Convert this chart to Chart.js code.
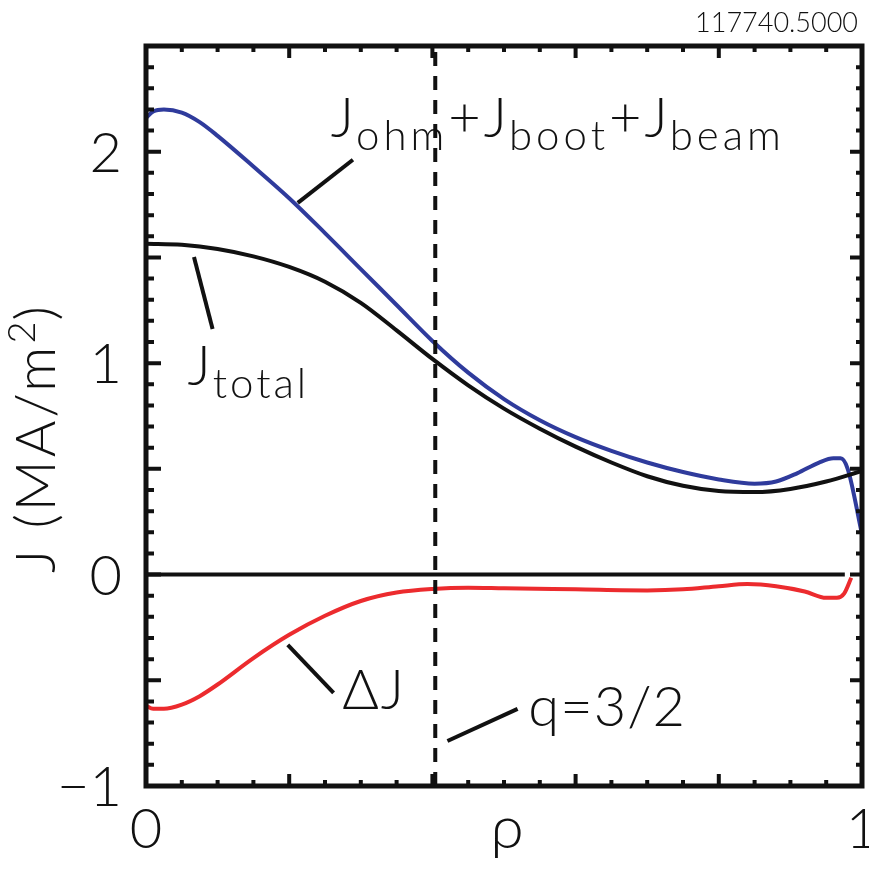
<!DOCTYPE html>
<html>
<head>
<meta charset="utf-8">
<script src="https://cdn.jsdelivr.net/npm/chart.js@4"></script>
<style>
  html, body { margin: 0; padding: 0; background: #fff; }
  #wrap { width: 869px; height: 872px; }
</style>
</head>
<body>
<div id="wrap"><canvas id="chart" width="869" height="872"></canvas></div>
<script>
// J_ohm + J_boot + J_beam
const sumRho = [0, 0.01, 0.025, 0.05, 0.075, 0.1, 0.15, 0.2, 0.25, 0.3, 0.35, 0.4, 0.45, 0.5, 0.55, 0.6, 0.65, 0.7, 0.75, 0.8, 0.85, 0.88, 0.91, 0.94, 0.96, 0.97, 0.98, 1.0];
const sumJ = [2.16, 2.19, 2.20, 2.185, 2.14, 2.075, 1.93, 1.78, 1.615, 1.445, 1.275, 1.105, 0.955, 0.83, 0.73, 0.65, 0.585, 0.53, 0.485, 0.45, 0.43, 0.44, 0.48, 0.53, 0.55, 0.55, 0.50, 0.19];

// J_total
const totalRho = [0, 0.05, 0.1, 0.15, 0.2, 0.25, 0.3, 0.35, 0.4, 0.45, 0.5, 0.55, 0.6, 0.65, 0.7, 0.75, 0.8, 0.85, 0.9, 0.95, 1.0];
const totalJ = [1.565, 1.56, 1.54, 1.505, 1.455, 1.385, 1.285, 1.155, 1.02, 0.895, 0.785, 0.69, 0.605, 0.53, 0.465, 0.42, 0.395, 0.39, 0.405, 0.44, 0.49];

// delta J
const deltaRho = [0, 0.01, 0.025, 0.05, 0.075, 0.1, 0.15, 0.2, 0.25, 0.3, 0.35, 0.4, 0.45, 0.5, 0.6, 0.7, 0.75, 0.8, 0.84, 0.88, 0.92, 0.95, 0.965, 0.975, 0.985];
const deltaJ = [-0.62, -0.635, -0.635, -0.615, -0.575, -0.52, -0.395, -0.285, -0.195, -0.125, -0.085, -0.068, -0.062, -0.065, -0.07, -0.075, -0.07, -0.055, -0.045, -0.055, -0.08, -0.11, -0.11, -0.09, -0.015];

const zeroRho = [0, 0.976];
const zeroJ = [0, 0];

const qRho = 0.404; // q=3/2 surface

const xTickValues = [0, 1];
const xTickLabels = ['0', '1'];
const yTickValues = [-1, 0, 1, 2];
const yTickLabels = ['\u22121', '0', '1', '2'];

// pointer lines for the labels [rho0, J0, rho1, J1]
const pointerSum = [0.212, 1.758, 0.289, 1.962];
const pointerTotal = [0.067, 1.502, 0.093, 1.161];
const pointerDelta = [0.198, -0.332, 0.262, -0.559];
const pointerQ = [0.421, -0.787, 0.519, -0.635];

const FONT = 'Lato, "Open Sans", "Noto Sans", sans-serif';

function pts(xs, ys) {
    return xs.map((x, i) => ({ x: x, y: ys[i] }));
}

function seg(p) {
    return [{ x: p[0], y: p[1] }, { x: p[2], y: p[3] }];
}

function pointerSet(p) {
    return {
        data: seg(p),
        borderColor: '#111',
        borderWidth: 4,
        pointRadius: 0,
        tension: 0
    };
}

// draw text made of runs [text, size, raise, letterSpacing]
function drawRuns(ctx, x, y, runs) {
    let cx = x;
    runs.forEach(r => {
        ctx.font = '300 ' + r[1] + 'px ' + FONT;
        ctx.letterSpacing = (r[3] || 0) + 'px';
        ctx.fillText(r[0], cx, y - r[2]);
        cx += ctx.measureText(r[0]).width;
    });
    ctx.letterSpacing = '0px';
}

const framePlugin = {
    id: 'frame',
    afterDatasetsDraw(chart) {
        const ctx = chart.ctx;
        const xs = chart.scales.x;
        const ys = chart.scales.y;
        const a = chart.chartArea;
        ctx.save();
        ctx.fillStyle = '#111';
        ctx.strokeStyle = '#111';
        ctx.textBaseline = 'alphabetic';

        // labels
        const X = v => xs.getPixelForValue(v);
        const Y = v => ys.getPixelForValue(v);
        ctx.textAlign = 'left';
        drawRuns(ctx, X(0.258), Y(2.071), [['J', 56, 0, 2], ['ohm', 42, -13, 4], ['+', 56, 0, 3], ['J', 56, 0, 2], ['boot', 42, -13, 4], ['+', 56, 0, 3], ['J', 56, 0, 2], ['beam', 42, -13, 4]]);
        drawRuns(ctx, X(0.058), Y(0.896), [['J', 56, 0, 2], ['total', 42, -13, 3]]);
        drawRuns(ctx, X(0.274), Y(-0.635), [['\u0394J', 56, 0, 2]]);
        drawRuns(ctx, X(0.534), Y(-0.716), [['q=3/2', 56, 0, 1]]);

        // frame
        ctx.lineWidth = 5;
        ctx.strokeRect(a.left, a.top, a.right - a.left, a.bottom - a.top);

        // inward ticks
        ctx.lineWidth = 4;
        ctx.beginPath();
        for (let i = 0; i <= 35; i++) {
            const v = -1 + i * 0.1;
            const major = i % 5 === 0;
            const py = Y(v);
            ctx.moveTo(a.left, py);
            ctx.lineTo(a.left + (major ? 15 : 8), py);
            ctx.moveTo(a.right, py);
            ctx.lineTo(a.right - (major ? 12 : 6), py);
        }
        for (let i = 0; i <= 20; i++) {
            const v = i * 0.05;
            const major = i % 4 === 0;
            const px = X(v);
            ctx.moveTo(px, a.bottom);
            ctx.lineTo(px, a.bottom - (major ? 12 : 6));
            ctx.moveTo(px, a.top);
            ctx.lineTo(px, a.top + (major ? 12 : 6));
        }
        ctx.stroke();

        // tick labels
        ctx.font = '300 56px ' + FONT;
        ctx.textAlign = 'right';
        yTickValues.forEach((v, i) => {
            ctx.fillText(yTickLabels[i], a.left - 24, Y(v) + 20);
        });
        ctx.textAlign = 'center';
        xTickValues.forEach((v, i) => {
            ctx.fillText(xTickLabels[i], X(v), a.bottom + 62);
        });

        // axis titles
        ctx.font = '300 60px ' + FONT;
        ctx.fillText('\u03C1', (a.left + a.right) / 2 + 3, a.bottom + 62);
        ctx.save();
        ctx.translate(55, 573);
        ctx.rotate(-Math.PI / 2);
        ctx.textAlign = 'left';
        drawRuns(ctx, 0, 0, [['J (MA/m', 56, 0, 3], ['2', 38, 20, 1], [')', 56, 0, 0]]);
        ctx.restore();

        // shot / time stamp
        ctx.font = '300 27px ' + FONT;
        ctx.textAlign = 'right';
        ctx.fillText('117740.5000', 858, 32);
        ctx.restore();
    }
};

new Chart(document.getElementById('chart'), {
    type: 'line',
    data: {
        datasets: [
            {
                data: pts(zeroRho, zeroJ),
                borderColor: '#111',
                borderWidth: 4,
                pointRadius: 0
            },
            {
                data: [{ x: qRho, y: -1 }, { x: qRho, y: 2.5 }],
                borderColor: '#111',
                borderWidth: 4,
                borderDash: [14, 10],
                pointRadius: 0
            },
            {
                data: pts(totalRho, totalJ),
                borderColor: '#111',
                borderWidth: 4,
                pointRadius: 0,
                cubicInterpolationMode: 'monotone'
            },
            {
                data: pts(sumRho, sumJ),
                borderColor: '#2f3b9c',
                borderWidth: 4,
                pointRadius: 0,
                cubicInterpolationMode: 'monotone'
            },
            {
                data: pts(deltaRho, deltaJ),
                borderColor: '#ec2b2e',
                borderWidth: 4,
                pointRadius: 0,
                cubicInterpolationMode: 'monotone'
            },
            pointerSet(pointerSum),
            pointerSet(pointerTotal),
            pointerSet(pointerDelta),
            pointerSet(pointerQ)
        ]
    },
    options: {
        responsive: false,
        animation: false,
        layout: { padding: { left: 146, right: 7, top: 46, bottom: 86 } },
        scales: {
            x: { type: 'linear', min: 0, max: 1, display: false },
            y: { type: 'linear', min: -1, max: 2.5, display: false }
        },
        plugins: {
            legend: { display: false },
            tooltip: { enabled: false }
        }
    },
    plugins: [framePlugin]
});
</script>
</body>
</html>
